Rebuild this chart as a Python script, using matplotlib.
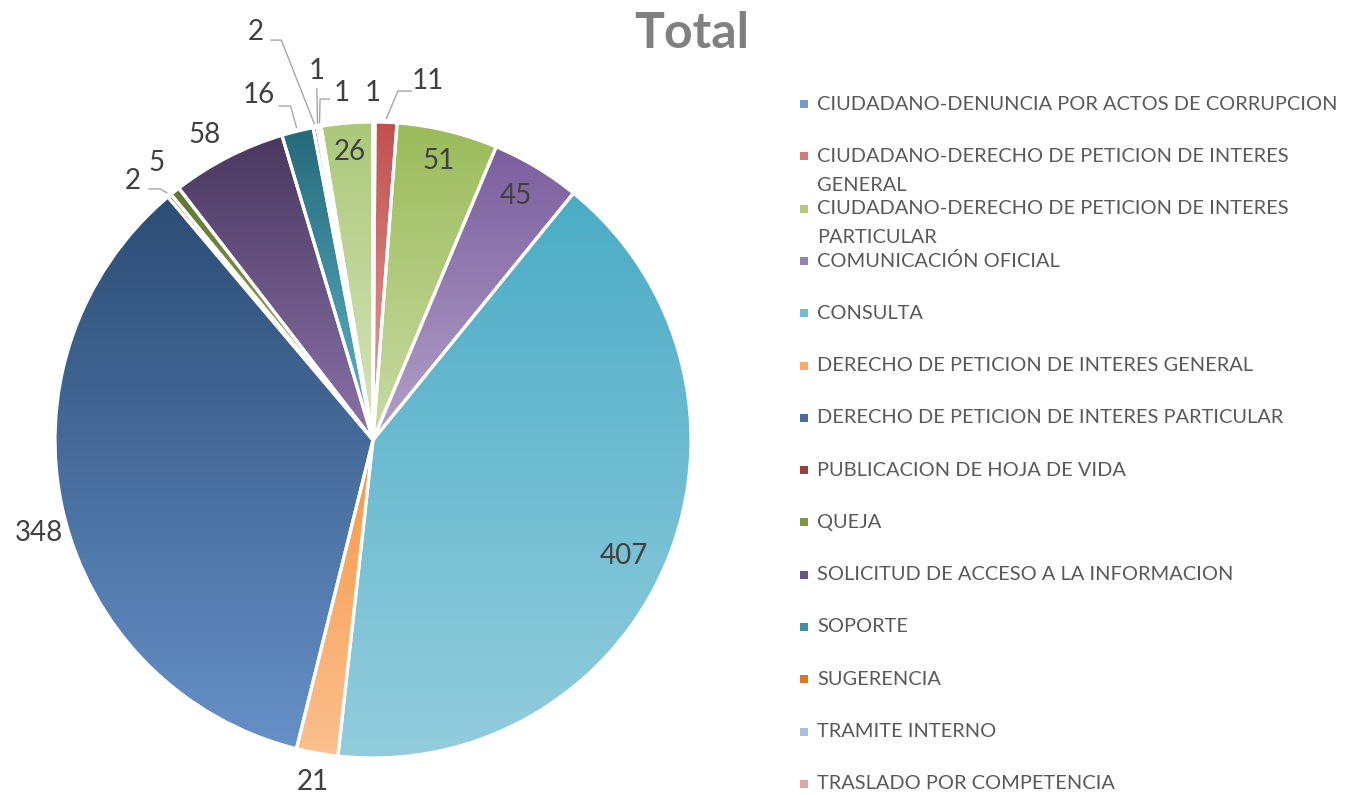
import numpy as np
import matplotlib
matplotlib.use('Agg')
import matplotlib.pyplot as plt
from matplotlib.colors import to_rgb
from matplotlib.patches import Rectangle

categories = ['CIUDADANO-DENUNCIA POR ACTOS DE CORRUPCION',
              'CIUDADANO-DERECHO DE PETICION DE INTERES\nGENERAL',
              'CIUDADANO-DERECHO DE PETICION DE INTERES\nPARTICULAR',
              'COMUNICACIÓN OFICIAL',
              'CONSULTA',
              'DERECHO DE PETICION DE INTERES GENERAL',
              'DERECHO DE PETICION DE INTERES PARTICULAR',
              'PUBLICACION DE HOJA DE VIDA',
              'QUEJA',
              'SOLICITUD DE ACCESO A LA INFORMACION',
              'SOPORTE',
              'SUGERENCIA',
              'TRAMITE INTERNO',
              'TRASLADO POR COMPETENCIA',
              'OTRO']
values = [1, 11, 51, 45, 407, 21, 348, 2, 5, 58, 16, 2, 1, 1, 26]

top_colors = ['#4F81BD', '#C0504D', '#9BBB59', '#7B5E9F', '#4BACC6', '#F79646',
              '#2C4D75', '#772C2A', '#5F7530', '#4A3860', '#266A7B', '#B65708',
              '#95B3D7', '#D99694', '#ACC87A']
bottom_colors = ['#95B3D7', '#E6A5A3', '#C9DBA5', '#B2A1C7', '#93CDDD', '#FBC08E',
                 '#6690C8', '#C0504D', '#9BBB59', '#8B72A9', '#5FB5CB', '#F79646',
                 '#B9CDE5', '#E6B9B8', '#D7E4BD']

# label placement: angle offset from slice middle (deg) and radius factor
lab_dang = [-0.2, 6.35, -0.4, -0.6, 2.2, -0.1, -2.4, -3.1, 0.5, -1.7, -4.6, -5.6, 1.3, 4.5, 0.1]
lab_r = [1.091, 1.142, 0.90, 0.89, 0.87, 1.092, 1.09, 1.11, 1.105, 1.095, 1.143, 1.335, 1.174, 1.097, 0.908]
# leader lines, pixel offsets from label centre: (x start, x elbow, y)
leaders = {1: (-16, -30, 10), 7: (15.5, 27.5, 7.5), 10: (20, 32, 11),
           11: (15, 26, 8), 12: (0, 0, 17), 13: (-12, -22, 6.5)}

W, H = 1345, 795
cx, cy, R = 373, 440, 318


def main():
    plt.rcParams['font.family'] = ['Lato', 'DejaVu Sans']
    fig = plt.figure(figsize=(W / 100, H / 100), dpi=100)
    ax = fig.add_axes([0, 0, 1, 1])

    wedges, _ = ax.pie(values, startangle=90, counterclock=False, radius=1,
                       colors=top_colors,
                       wedgeprops=dict(edgecolor='white', linewidth=2.3))

    for w, c0, c1 in zip(wedges, top_colors, bottom_colors):
        ext = w.get_path().get_extents()
        grad = np.linspace(0, 1, 256)[:, None, None]
        img = (1 - grad) * np.array(to_rgb(c0)) + grad * np.array(to_rgb(c1))
        im = ax.imshow(img, extent=[ext.x0, ext.x1, ext.y0, ext.y1], origin='upper',
                       aspect='auto', zorder=1, interpolation='bilinear')
        im.set_clip_path(w)
        w.set_facecolor('none')
        w.set_zorder(2)

    total = float(sum(values))
    cum = np.cumsum([0] + values)
    for i, v in enumerate(values):
        mid = (cum[i] + cum[i + 1]) / 2.0 / total * 360.0
        th = np.radians(mid + lab_dang[i])
        tx, ty = lab_r[i] * np.sin(th), lab_r[i] * np.cos(th)
        ax.text(tx, ty, str(v), ha='center', va='center', fontsize=20,
                color='#404040', zorder=4)
        if i in leaders:
            xs, xe, yo = leaders[i]
            m = np.radians(mid)
            ex, ey = 1.01 * np.sin(m), 1.01 * np.cos(m)
            ax.plot([tx + xs / R, tx + xe / R, ex], [ty - yo / R, ty - yo / R, ey],
                    color='#A6A6A6', lw=1.0, zorder=3, solid_capstyle='butt')

    ax.set_xlim(-cx / R, (W - cx) / R)
    ax.set_ylim(-(H - cy) / R, cy / R)
    ax.set_aspect('equal')
    ax.axis('off')

    fig.text(692 / W, 1 - 33 / H, 'Total', ha='center', va='center',
             fontsize=36, fontweight='bold', color='#808080')

    # legend (the last entry falls below the canvas, as in the source chart)
    y0, step = 103, 52.3
    for i, lab in enumerate(categories):
        y = y0 + i * step
        if y > H - 10:
            break
        col = [(a + b) / 2 for a, b in zip(to_rgb(top_colors[i]), to_rgb(bottom_colors[i]))]
        fig.patches.append(Rectangle(((800) / W, 1 - (y + 5) / H), 8 / W, 8 / H,
                                     transform=fig.transFigure, facecolor=col,
                                     edgecolor='none'))
        for j, line in enumerate(lab.split('\n')):
            fig.text(817 / W, 1 - (y + 1 + j * 29) / H, line, ha='left', va='center',
                     fontsize=14.4, color='#595959')

    fig.savefig('out.png', dpi=100)


if __name__ == '__main__':
    main()
